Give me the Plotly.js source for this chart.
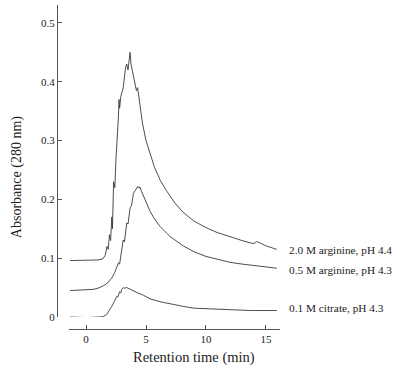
<!DOCTYPE html>
<html>
<head>
<meta charset="utf-8">
<script src="https://cdn.plot.ly/plotly-3.0.1.min.js"></script>
<style>html,body{margin:0;padding:0;background:#fff;}#chart{width:400px;height:371px;}</style>
</head>
<body>
<div id="chart"></div>
<script>
// Retention time (min) and absorbance (280 nm) for each elution buffer
const arg20_x = [-1.33, 0, 1.0, 1.4, 1.6, 1.75, 1.85, 1.95, 2.05, 2.15, 2.2, 2.3, 2.4, 2.5, 2.6, 2.7, 2.75, 2.8, 2.9, 3.1, 3.3, 3.4, 3.5, 3.6, 3.67, 3.75, 3.9, 4.1, 4.2, 4.3, 4.5, 4.7, 5.0, 5.3, 5.7, 6.2, 6.7, 7.4, 8.1, 9, 10, 10.9, 12, 13, 13.7, 14.0, 14.2, 14.4, 15, 15.9];
const arg20_y = [0.096, 0.096, 0.097, 0.099, 0.105, 0.12, 0.115, 0.14, 0.13, 0.17, 0.15, 0.23, 0.22, 0.27, 0.30, 0.34, 0.37, 0.355, 0.375, 0.39, 0.425, 0.43, 0.42, 0.44, 0.45, 0.43, 0.415, 0.40, 0.385, 0.39, 0.357, 0.33, 0.30, 0.28, 0.255, 0.232, 0.215, 0.194, 0.178, 0.163, 0.152, 0.144, 0.136, 0.13, 0.126, 0.125, 0.128, 0.127, 0.121, 0.115];

const arg05_x = [-1.33, 0, 0.6, 1.0, 1.44, 1.8, 2.0, 2.2, 2.4, 2.55, 2.7, 2.8, 2.97, 3.1, 3.2, 3.4, 3.5, 3.67, 3.8, 3.95, 4.1, 4.3, 4.4, 4.5, 4.64, 5.0, 5.33, 5.7, 6.17, 6.7, 7.0, 8.1, 9, 10, 10.9, 12, 13, 13.7, 15, 15.9];
const arg05_y = [0.045, 0.046, 0.047, 0.049, 0.053, 0.058, 0.063, 0.068, 0.076, 0.085, 0.092, 0.09, 0.114, 0.131, 0.128, 0.16, 0.158, 0.185, 0.19, 0.21, 0.215, 0.222, 0.219, 0.221, 0.213, 0.194, 0.18, 0.167, 0.154, 0.143, 0.137, 0.121, 0.111, 0.103, 0.098, 0.093, 0.09, 0.088, 0.085, 0.083];

const cit_x = [-1.33, 0, 1.17, 1.45, 1.72, 2.0, 2.14, 2.35, 2.55, 2.65, 2.8, 2.9, 2.97, 3.1, 3.2, 3.4, 3.67, 4.2, 4.78, 5.33, 6.17, 7.0, 8.1, 9, 10.9, 12, 13.7, 15.9];
const cit_y = [0.0, -0.001, 0.0, 0.001, 0.004, 0.012, 0.018, 0.026, 0.035, 0.034, 0.043, 0.041, 0.047, 0.05, 0.049, 0.05, 0.047, 0.042, 0.037, 0.031, 0.026, 0.022, 0.018, 0.015, 0.013, 0.012, 0.011, 0.011];

const seriesLabels = ["2.0 M arginine, pH 4.4", "0.5 M arginine, pH 4.3", "0.1 M citrate, pH 4.3"];
const labelY = [0.114, 0.080, 0.015];

const xTicks = [0, 5, 10, 15];
const yTicks = [0, 0.1, 0.2, 0.3, 0.4, 0.5];
const yTickText = ["0", "0.1", "0.2", "0.3", "0.4", "0.5"];

const lineStyle = {color: '#3a3a3a', width: 0.9};
const serif = '"Liberation Serif", "Times New Roman", serif';

const traces = [
  {x: arg20_x, y: arg20_y, name: seriesLabels[0], mode: 'lines', line: lineStyle},
  {x: arg05_x, y: arg05_y, name: seriesLabels[1], mode: 'lines', line: lineStyle},
  {x: cit_x, y: cit_y, name: seriesLabels[2], mode: 'lines', line: lineStyle}
];

const annotations = seriesLabels.map((t, i) => ({
  text: t, xref: 'paper', x: 1.031, xanchor: 'left',
  yref: 'y', y: labelY[i], yanchor: 'middle', showarrow: false,
  font: {family: serif, size: 11.3, color: '#222'}
}));
annotations.push({
  text: 'Retention time (min)', xref: 'paper', yref: 'paper', x: 0.614, y: -0.0895,
  xanchor: 'center', yanchor: 'middle', showarrow: false,
  font: {family: serif, size: 14.5, color: '#222'}
});
annotations.push({
  text: 'Absorbance (280 nm)', xref: 'paper', yref: 'paper', x: -0.179, y: 0.469,
  xanchor: 'center', yanchor: 'middle', showarrow: false, textangle: -90,
  font: {family: serif, size: 14, color: '#222'}
});

const layout = {
  width: 400, height: 371,
  margin: {l: 57, r: 120, t: 5, b: 42},
  paper_bgcolor: '#fff', plot_bgcolor: '#fff',
  showlegend: false,
  font: {family: serif, color: '#222', size: 11},
  xaxis: {
    domain: [12/223, 1], range: [-1.42, 16.17], anchor: 'free', position: 0,
    showline: true, linecolor: '#555', linewidth: 1,
    ticks: 'inside', ticklen: 4, tickcolor: '#555',
    tickvals: xTicks, ticktext: xTicks.map(String),
    showgrid: false, zeroline: false,
    tickfont: {family: serif, size: 11, color: '#222'}
  },
  yaxis: {
    domain: [12/324, 1], range: [0, 0.5306], anchor: 'free', position: 0,
    showline: true, linecolor: '#555', linewidth: 1,
    ticks: 'inside', ticklen: 4, tickcolor: '#555',
    tickvals: yTicks, ticktext: yTickText,
    showgrid: false, zeroline: false,
    tickfont: {family: serif, size: 11, color: '#222'}
  },
  annotations: annotations
};

Plotly.newPlot('chart', traces, layout, {displayModeBar: false, staticPlot: true});
</script>
</body>
</html>
